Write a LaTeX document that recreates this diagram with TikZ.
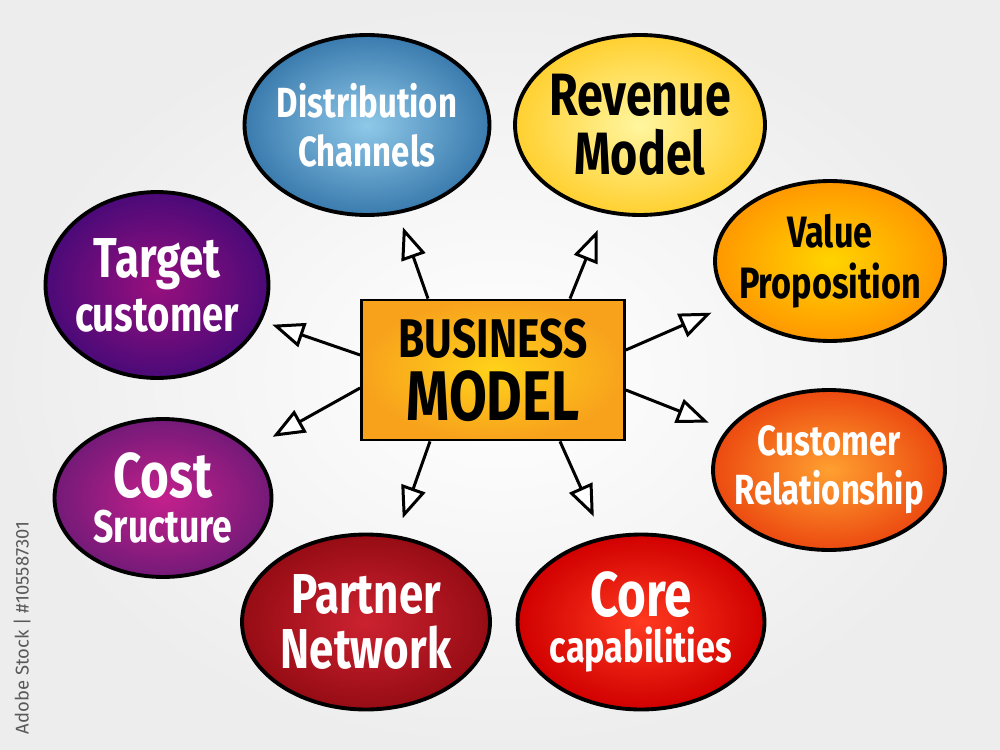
\documentclass[tikz,border=0pt]{standalone}
\usepackage{fontspec}
\setmainfont{Fira Sans}
\newfontfamily\handfont[FakeStretch=0.78]{Fira Sans}
\usepackage{xcolor}
\usetikzlibrary{positioning,arrows.meta,shapes.geometric,calc}
\definecolor{paper}{HTML}{EDEDED}
\definecolor{distIn}{HTML}{8FC8E8}
\definecolor{distOut}{HTML}{3A7BAE}
\definecolor{revIn}{HTML}{FFF6A0}
\definecolor{revOut}{HTML}{FFD030}
\definecolor{valIn}{HTML}{FFD400}
\definecolor{valOut}{HTML}{FF9800}
\definecolor{relIn}{HTML}{FFA030}
\definecolor{relOut}{HTML}{EC4A10}
\definecolor{coreIn}{HTML}{FF3A20}
\definecolor{coreOut}{HTML}{D00000}
\definecolor{partIn}{HTML}{CC2230}
\definecolor{partOut}{HTML}{960C14}
\definecolor{costIn}{HTML}{C4208C}
\definecolor{costOut}{HTML}{741A78}
\definecolor{tgtIn}{HTML}{98107E}
\definecolor{tgtOut}{HTML}{4A0A78}
\definecolor{hubIn}{HTML}{FFD21A}
\definecolor{hubOut}{HTML}{F8A21C}
\newcommand{\fs}[1]{\fontsize{#1}{#1}\selectfont}

\begin{document}
\begin{tikzpicture}[x=0.02cm, y=-0.02cm,
  bubble/.style={ellipse, draw=black, line width=2.2pt, inner xsep=-1.5cm, inner ysep=-1cm,
                 align=center, shading=radial, text=white, font=\handfont\bfseries},
  hub/.style={rectangle, draw=black, line width=1.6pt, inner sep=0pt, align=center,
              shading=radial, inner color=hubIn, outer color=hubOut,
              minimum width=5.26cm, minimum height=2.8cm, font=\handfont\bfseries},
  link/.style={line width=1.7pt, -{Triangle[length=6.4mm, width=5mm, fill=white]},
               shorten >=#1},
  link/.default=0pt]
  \useasboundingbox (0,0) rectangle (1000,750);
  \shade[inner color=white, outer color=paper] (0,0) rectangle (1000,750);
  % the centre
  \node[hub] (hub) at (493,370) {\fs{31}BUSINESS\\[6pt]\fs{40}MODEL};
  % top row
  \node[bubble, minimum width=4.9cm, minimum height=3.6cm, inner color=distIn, outer color=distOut]
    (dist) at (367,125) {\fs{24}Distribution\\[8pt]\fs{24}Channels};
  \node[bubble, minimum width=5.0cm, minimum height=3.6cm, inner color=revIn, outer color=revOut, text=black]
    (rev) at (640,125) {\fs{34}Revenue\\[6pt]\fs{34}Model};
  % right side
  \node[bubble, minimum width=4.6cm, minimum height=3.2cm, inner color=valIn, outer color=valOut, text=black]
    (val) at (830,261) {\fs{25}Value\\[7pt]\fs{25}Proposition};
  \node[bubble, minimum width=4.64cm, minimum height=3.2cm, inner color=relIn, outer color=relOut]
    (rel) at (829,470) {\fs{24}Customer\\[7pt]\fs{24}Relationship};
  % bottom row
  \node[bubble, minimum width=4.94cm, minimum height=3.5cm, inner color=coreIn, outer color=coreOut]
    (core) at (641,622) {\fs{36}Core\\[4pt]\fs{25}capabilities};
  \node[bubble, minimum width=4.96cm, minimum height=3.5cm, inner color=partIn, outer color=partOut]
    (part) at (366,622) {\fs{32}Partner\\[6pt]\fs{32}Network};
  % left side
  \node[bubble, minimum width=4.34cm, minimum height=3.16cm, inner color=costIn, outer color=costOut]
    (cost) at (163,498) {\fs{36}Cost\\[6pt]\fs{26}Sructure};
  \node[bubble, minimum width=4.46cm, minimum height=3.72cm, inner color=tgtIn, outer color=tgtOut]
    (tgt) at (157,285) {\fs{32}Target\\[4pt]\fs{28}customer};
  % stock label
  \node[rotate=90, text=black!65, font=\fs{10.5}] (stock) at (22,628) {Adobe Stock | \#105587301};
  % arrows out of the centre
  \draw[link=0.28cm] ($(hub.north)+(-65,0)$) -- (dist);
  \draw[link=0.36cm] ($(hub.north)+(77,0)$) -- (rev);
  \draw[link=0.42cm] ($(hub.east)+(0,-20)$) -- (val);
  \draw[link=0.38cm] ($(hub.east)+(0,20)$) -- (rel);
  \draw[link=0.44cm] ($(hub.south)+(67,0)$) -- (core);
  \draw[link=0.36cm] ($(hub.south)+(-63,0)$) -- (part);
  \draw[link=0.5cm] ($(hub.west)+(0,18)$) -- (cost);
  \draw[link=0.22cm] ($(hub.west)+(0,-15)$) -- (tgt);
\end{tikzpicture}
\end{document}
